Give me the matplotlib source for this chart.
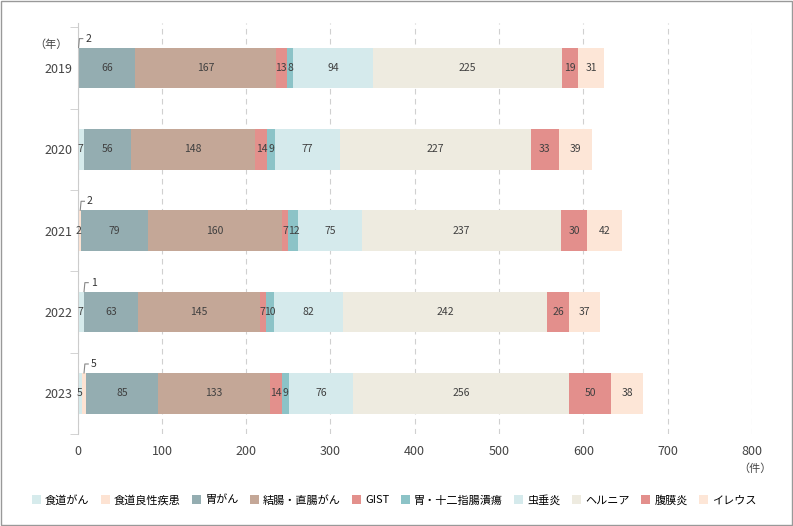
import matplotlib
matplotlib.use("Agg")
import matplotlib.pyplot as plt
from matplotlib.patches import Rectangle

plt.rcParams["font.family"] = "Noto Sans CJK JP"

years = ["2019", "2020", "2021", "2022", "2023"]
series = ["食道がん", "食道良性疾患", "胃がん", "結腸・直腸がん", "GIST", "胃・十二指腸潰瘍", "虫垂炎", "ヘルニア", "腹膜炎", "イレウス"]
colors = ["#d6ebec", "#fde3d3", "#94adb1", "#c4a797", "#e3908c", "#8cc3c7", "#d5eaec", "#eeebe0", "#e38f8c", "#fde6d7"]
values = [
    [0, 7, 2, 7, 5],
    [2, 0, 2, 1, 5],
    [66, 56, 79, 63, 85],
    [167, 148, 160, 145, 133],
    [13, 14, 7, 7, 14],
    [8, 9, 12, 10, 9],
    [94, 77, 75, 82, 76],
    [225, 227, 237, 242, 256],
    [19, 33, 30, 26, 50],
    [31, 39, 42, 37, 38],
]

fig = plt.figure(figsize=(7.93, 5.26), dpi=100)
fig.patches.append(Rectangle((0.001, 0.001), 0.998, 0.998, transform=fig.transFigure,
                             fill=False, edgecolor="#999999", lw=1))
ax = fig.add_axes([0.098, 0.175, 0.85, 0.781])
ypos = list(range(len(years)))
left = [0] * len(years)
for si, (name, vals, c) in enumerate(zip(series, values, colors)):
    ax.barh(ypos, vals, left=left, height=0.5, color=c, label=name, zorder=2)
    for i, v in enumerate(vals):
        if v > 0:
            cx = left[i] + v / 2
            if si == 1:
                x0 = left[i] + v / 2
                ax.plot([x0, x0 + 1, x0 + 5], [i - 0.25, i - 0.36, i - 0.36], color="#888888", lw=0.8, zorder=3)
                ax.text(x0 + 8, i - 0.36, str(v), va="center", ha="left", fontsize=7.5, color="#333333")
            else:
                ax.text(cx, i, str(v), va="center", ha="center", fontsize=7.5, color="#404040", zorder=3)
        left[i] += v

ax.set_xlim(0, 800)
ax.set_ylim(4.5, -0.55)
ax.set_xticks(range(0, 801, 100))
ax.set_yticks(ypos)
ax.set_yticklabels(years)
ax.tick_params(axis="both", labelsize=9, colors="#444444", length=0)
ax.tick_params(axis="x", pad=8)
ax.set_yticks([i + 0.5 for i in range(-1, 5)], minor=True)
ax.tick_params(axis="y", which="minor", length=6, color="#cccccc")
ax.grid(axis="x", linestyle=(0, (5, 4)), color="#d0d0d0", lw=0.8, zorder=0)
for s in ["top", "right", "bottom"]:
    ax.spines[s].set_visible(False)
ax.spines["left"].set_color("#cccccc")
ax.text(-12, -0.28, "（年）", ha="right", va="center", fontsize=8, color="#444444")
ax.text(1.005, -0.085, "（件）", transform=ax.transAxes, ha="center", va="center", fontsize=8, color="#444444")

h, l = ax.get_legend_handles_labels()
fig.legend(h, l, loc="lower center", bbox_to_anchor=(0.497, 0.02), ncol=10, frameon=False,
           fontsize=8, handlelength=0.8, handleheight=0.8, columnspacing=1.0, handletextpad=0.4)
fig.savefig("out.png", dpi=100)
